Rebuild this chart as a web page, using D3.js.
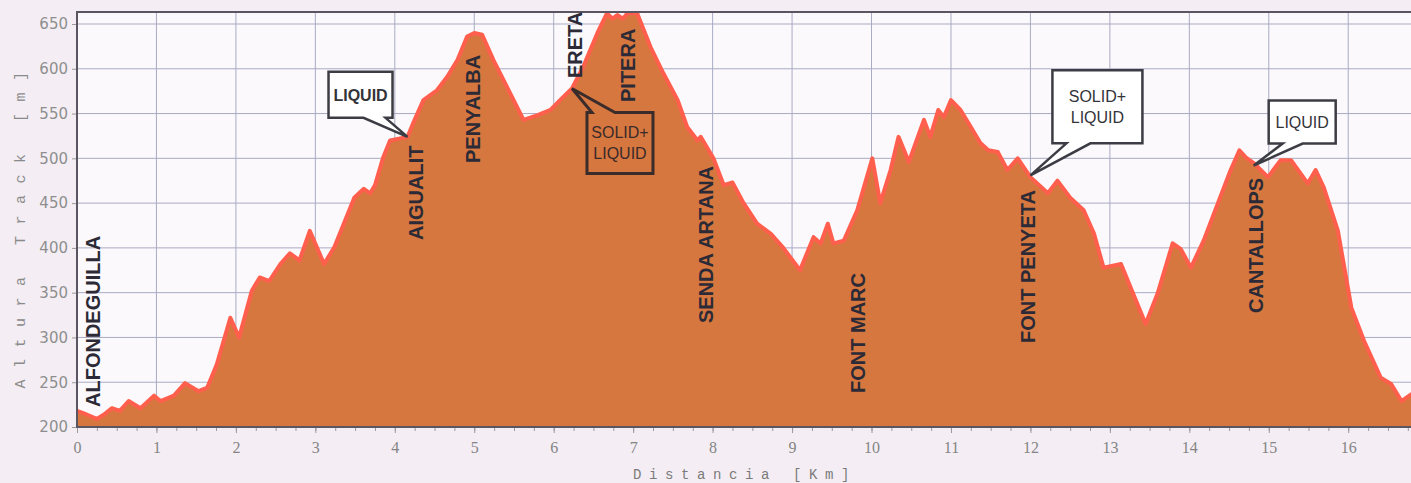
<!DOCTYPE html>
<html>
<head>
<meta charset="utf-8">
<script src="https://cdn.jsdelivr.net/npm/d3@7"></script>
<style>
  html, body { margin: 0; padding: 0; background: #f4eef4; }
  svg { display: block; }
</style>
</head>
<body>
<svg id="chart"></svg>
<script>
// perfil: distancia (km) y altura (m)
const distanceKm = [
  0.00, 0.12, 0.25, 0.34, 0.44, 0.54, 0.65, 0.80, 0.97, 1.05, 1.22, 1.36, 1.53, 1.64, 1.76,
  1.93, 2.04, 2.20, 2.30, 2.42, 2.56, 2.68, 2.80, 2.93, 3.11, 3.24, 3.49, 3.61, 3.69, 3.75,
  3.85, 3.94, 4.05, 4.16, 4.23, 4.36, 4.53, 4.66, 4.79, 4.91, 5.00, 5.10, 5.24, 5.41, 5.62,
  5.79, 5.96, 6.08, 6.23, 6.37, 6.55, 6.67, 6.74, 6.80, 6.87, 6.93, 7.05, 7.22, 7.38, 7.56,
  7.68, 7.81, 7.85, 8.01, 8.14, 8.25, 8.39, 8.56, 8.73, 8.89, 9.10, 9.27, 9.36, 9.45, 9.52,
  9.65, 9.82, 10.01, 10.11, 10.24, 10.34, 10.47, 10.66, 10.74, 10.84, 10.91, 11.00, 11.12, 11.25, 11.37,
  11.47, 11.59, 11.71, 11.84, 12.00, 12.22, 12.34, 12.50, 12.67, 12.80, 12.92, 13.14, 13.26, 13.45, 13.60,
  13.79, 13.89, 14.02, 14.18, 14.36, 14.52, 14.63, 14.71, 14.82, 14.99, 15.15, 15.28, 15.49, 15.59, 15.69,
  15.87, 16.04, 16.20, 16.41, 16.54, 16.67, 16.80
];
const altitudeM = [
  218, 214, 209, 214, 221, 218, 229, 221, 235, 229, 235, 249, 240, 244, 270,
  322, 300, 352, 367, 363, 382, 394, 386, 419, 382, 401, 456, 466, 461, 470,
  500, 520, 522, 524, 539, 565, 576, 591, 610, 636, 640, 638, 610, 580, 543,
  548, 554, 565, 578, 602, 640, 662, 656, 660, 656, 662, 662, 624, 595, 565,
  535, 520, 524, 500, 470, 473, 450, 427, 416, 400, 375, 412, 405, 427, 405,
  408, 442, 500, 450, 487, 524, 496, 543, 524, 554, 546, 565, 554, 535, 517,
  509, 507, 487, 500, 479, 461, 475, 456, 442, 416, 378, 382, 356, 315, 349,
  405, 399, 378, 408, 450, 487, 509, 501, 494, 479, 498, 498, 472, 487, 468,
  419, 333, 296, 255, 248, 229, 237
];

const xTicks = d3.range(0, 17);
const yTicks = [200, 250, 300, 350, 400, 450, 500, 550, 600, 650];

// topónimos a lo largo de la ruta
const placeNames = ["ALFONDEGUILLA", "AIGUALIT", "PENYALBA", "ERETA", "PITERA",
  "SENDA ARTANA", "FONT MARC", "FONT PENYETA", "CANTALLOPS"];
const placeKm = [0.29, 4.36, 5.07, 6.36, 7.02, 8.01, 9.92, 12.06, 14.93];

// avituallamientos
const supplyText = [["LIQUID"], ["SOLID+", "LIQUID"], ["SOLID+", "LIQUID"], ["LIQUID"]];
const supplyKm = [4.16, 6.23, 12.00, 14.81];
const supplyAlt = [524, 578, 481, 492];

// maquetación (no son datos)
const labelBottom = [407, 240, 163, 78, 102, 323, 393, 343, 313];
const bubbleLayout = [
  { dx: -79, dy: -65, w: 64, h: 46, side: "bottom", a: 35, b: 57, fill: "#ffffff", bold: true },
  { dx: 15, dy: 24, w: 66, h: 61, side: "top", a: 5, b: 28, fill: "none", bold: false },
  { dx: 22, dy: -105, w: 90, h: 73, side: "bottom", a: 14, b: 38, fill: "#ffffff", bold: false },
  { dx: 15, dy: -65, w: 67, h: 43, side: "bottom", a: 14, b: 34, fill: "#ffffff", bold: false }
];

const width = 1411, height = 483;
const marginLeft = 77, marginTop = 12, marginRight = 0, marginBottom = 56;

const svg = d3.select("#chart").attr("width", width).attr("height", height);

const x = d3.scaleLinear().domain([0, 16.79]).range([marginLeft, width - marginRight]);
const y = d3.scaleLinear().domain([200, 663.4]).range([height - marginBottom, marginTop]);

const profile = distanceKm.map((d, i) => ({ km: d, alt: altitudeM[i] }));

svg.append("rect")
  .attr("x", marginLeft).attr("y", marginTop)
  .attr("width", width - marginLeft - marginRight)
  .attr("height", height - marginBottom - marginTop)
  .attr("fill", "#fbf9fc");

svg.append("defs").append("clipPath").attr("id", "plot")
  .append("rect")
  .attr("x", marginLeft).attr("y", marginTop)
  .attr("width", width - marginLeft - marginRight)
  .attr("height", height - marginBottom - marginTop);

// rejilla
svg.append("g")
  .attr("stroke", "#a9abc4").attr("stroke-width", 1)
  .call(g => g.selectAll("line.v")
    .data(xTicks.slice(1))
    .join("line").attr("class", "v")
    .attr("x1", d => x(d)).attr("x2", d => x(d))
    .attr("y1", marginTop).attr("y2", height - marginBottom))
  .call(g => g.selectAll("line.h")
    .data(yTicks.slice(1))
    .join("line").attr("class", "h")
    .attr("x1", marginLeft).attr("x2", width - marginRight)
    .attr("y1", d => y(d)).attr("y2", d => y(d)));

// área del perfil
const area = d3.area().x(d => x(d.km)).y0(y(200)).y1(d => y(d.alt));
const line = d3.line().x(d => x(d.km)).y(d => y(d.alt));

const plot = svg.append("g").attr("clip-path", "url(#plot)");
plot.append("path").datum(profile).attr("d", area).attr("fill", "#d6773f");
plot.append("path").datum(profile).attr("d", line)
  .attr("fill", "none").attr("stroke", "#ff5f4c")
  .attr("stroke-width", 4).attr("stroke-linejoin", "round");

// ejes
svg.append("g")
  .attr("transform", `translate(0,${height - marginBottom})`)
  .call(d3.axisBottom(x).tickValues(d3.range(0, 16.8, 0.25)).tickSize(4).tickFormat(""))
  .call(g => g.select(".domain").remove())
  .call(g => g.selectAll(".tick line").attr("stroke", "#9a9a9a"));

svg.append("g")
  .attr("transform", `translate(0,${height - marginBottom})`)
  .call(d3.axisBottom(x).tickValues(xTicks).tickSize(6).tickPadding(9).tickFormat(d3.format("d")))
  .call(g => g.select(".domain").remove())
  .call(g => g.selectAll(".tick line").attr("stroke", "#9a9a9a"))
  .call(g => g.selectAll(".tick text")
    .attr("font-family", "Liberation Serif").attr("font-size", 16).attr("fill", "#858585"));

svg.append("g")
  .attr("transform", `translate(${marginLeft},0)`)
  .call(d3.axisLeft(y).tickValues(yTicks).tickSize(5).tickPadding(4))
  .call(g => g.select(".domain").remove())
  .call(g => g.selectAll(".tick line").attr("stroke", "#9a9a9a"))
  .call(g => g.selectAll(".tick text")
    .attr("font-family", "DejaVu Sans").attr("font-size", 15).attr("fill", "#8e8e8e"));

// marco
svg.append("path")
  .attr("d", `M${width},${marginTop}H${marginLeft}V${height - marginBottom}H${width}`)
  .attr("fill", "none").attr("stroke", "#5a5560").attr("stroke-width", 2);

// títulos de ejes
svg.append("text")
  .attr("x", 745).attr("y", 479)
  .attr("text-anchor", "middle")
  .attr("font-family", "Liberation Mono").attr("font-size", 14)
  .attr("letter-spacing", 7.6).attr("fill", "#7a7a7a")
  .text("Distancia [Km]");

svg.append("text")
  .attr("transform", `translate(25,${(marginTop + height - marginBottom) / 2 + 5}) rotate(-90)`)
  .attr("text-anchor", "middle")
  .attr("font-family", "Liberation Mono").attr("font-size", 15)
  .attr("letter-spacing", 11.5).attr("fill", "#8a8a8a")
  .text("Altura Track [m]");

// topónimos
svg.append("g")
  .selectAll("text")
  .data(placeNames)
  .join("text")
  .attr("transform", (d, i) => `translate(${x(placeKm[i])},${labelBottom[i]}) rotate(-90)`)
  .attr("font-family", "Liberation Sans").attr("font-weight", "bold")
  .attr("font-size", 20).attr("fill", "#2b2a36")
  .text(d => d);

// bocadillos
function bubblePath(tx, ty, L) {
  const x0 = tx + L.dx, y0 = ty + L.dy, x1 = x0 + L.w, y1 = y0 + L.h;
  const ta = x0 + L.a, tb = x0 + L.b;
  if (L.side === "bottom") {
    return `M${x0},${y0}H${x1}V${y1}H${tb}L${tx},${ty}L${ta},${y1}H${x0}Z`;
  }
  return `M${x0},${y0}H${ta}L${tx},${ty}L${tb},${y0}H${x1}V${y1}H${x0}Z`;
}

const bubbles = svg.append("g")
  .selectAll("g")
  .data(supplyText)
  .join("g");

bubbles.append("path")
  .attr("d", (d, i) => bubblePath(x(supplyKm[i]), y(supplyAlt[i]), bubbleLayout[i]))
  .attr("fill", (d, i) => bubbleLayout[i].fill)
  .attr("stroke", (d, i) => bubbleLayout[i].fill === "none" ? "#3b2c2c" : "#3c3c44")
  .attr("stroke-width", (d, i) => bubbleLayout[i].fill === "none" ? 3 : 2.5)
  .attr("stroke-linejoin", "miter");

bubbles.each(function (lines, i) {
  const L = bubbleLayout[i];
  const cx = x(supplyKm[i]) + L.dx + L.w / 2;
  const cy = y(supplyAlt[i]) + L.dy + L.h / 2;
  const lh = 21;
  d3.select(this).selectAll("text")
    .data(lines)
    .join("text")
    .attr("x", cx)
    .attr("y", (t, j) => cy + (j - (lines.length - 1) / 2) * lh + 6)
    .attr("text-anchor", "middle")
    .attr("font-family", "Liberation Sans")
    .attr("font-weight", L.bold ? "bold" : "normal")
    .attr("font-size", 16)
    .attr("fill", L.fill === "none" ? "#3a2a2a" : "#333338")
    .text(t => t);
});
</script>
</body>
</html>
